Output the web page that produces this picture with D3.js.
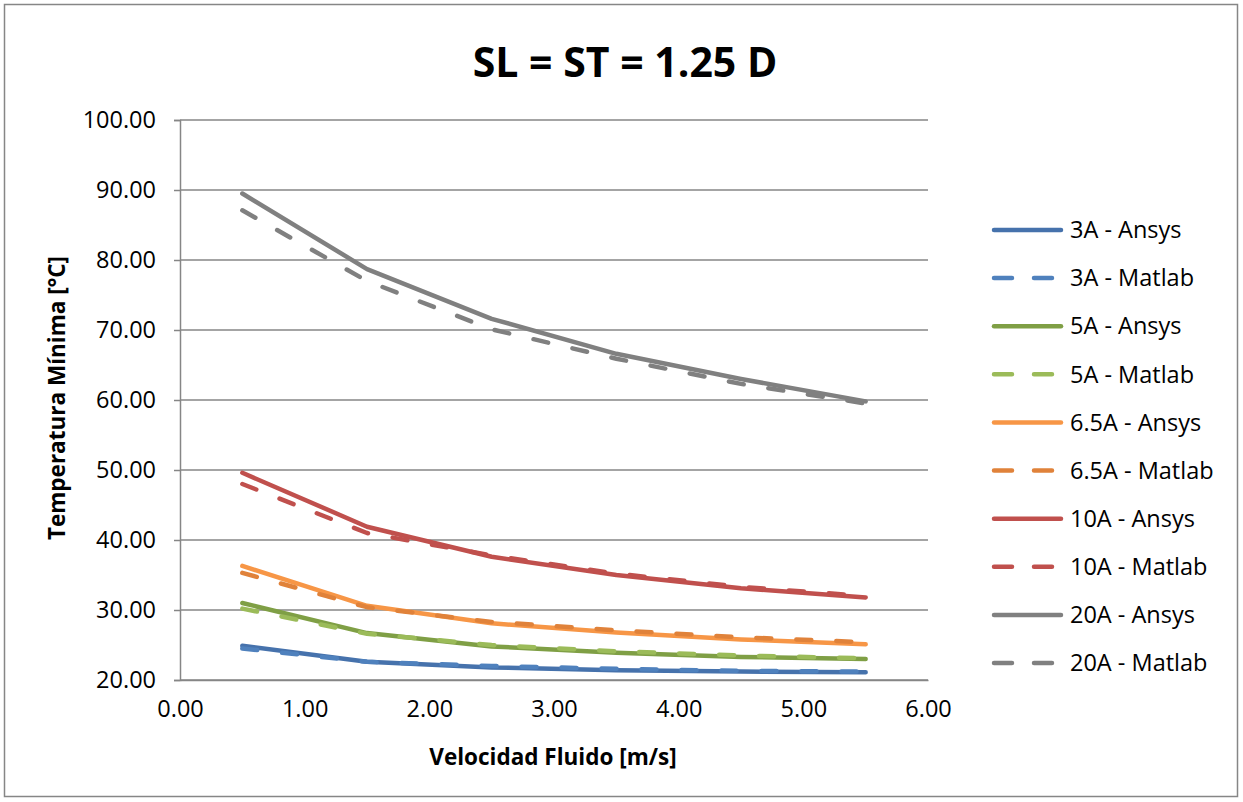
<!DOCTYPE html>
<html><head><meta charset="utf-8">
<script src="https://cdn.jsdelivr.net/npm/d3@7"></script>
<style>
html,body{margin:0;padding:0;background:#fff;}
svg{display:block;font-family:"Open Sans",sans-serif;}
</style></head>
<body><svg id="c" width="1243" height="802"></svg>
<script>
const velocities = [0.5, 1.5, 2.5, 3.5, 4.5, 5.5];
const seriesNames = ["3A - Ansys","3A - Matlab","5A - Ansys","5A - Matlab","6.5A - Ansys","6.5A - Matlab","10A - Ansys","10A - Matlab","20A - Ansys","20A - Matlab"];
const a3Ansys   = [24.9, 22.6, 21.8, 21.4, 21.2, 21.1];
const a3Matlab  = [24.5, 22.6, 22.0, 21.6, 21.3, 21.2];
const a5Ansys   = [31.0, 26.7, 24.8, 23.9, 23.3, 23.0];
const a5Matlab  = [30.2, 26.6, 25.0, 24.1, 23.5, 23.1];
const a65Ansys  = [36.3, 30.6, 28.1, 26.8, 25.8, 25.1];
const a65Matlab = [35.3, 30.4, 28.3, 27.1, 26.1, 25.4];
const a10Ansys  = [49.6, 41.9, 37.6, 35.0, 33.1, 31.8];
const a10Matlab = [48.0, 41.0, 37.8, 35.2, 33.3, 32.0];
const a20Ansys  = [89.5, 78.7, 71.6, 66.6, 63.0, 59.8];
const a20Matlab = [87.1, 77.0, 70.1, 65.9, 62.3, 59.5];
const xTicks = [0,1,2,3,4,5,6];
const yTicks = [20,30,40,50,60,70,80,90,100];
const title = "SL = ST = 1.25 D";
const xTitle = "Velocidad Fluido [m/s]";
const yTitle = "Temperatura Mínima [°C]";

const seriesValues = [a3Ansys,a3Matlab,a5Ansys,a5Matlab,a65Ansys,a65Matlab,a10Ansys,a10Matlab,a20Ansys,a20Matlab];
const colors = ["#4672AC","#4F81BD","#7F9F45","#9BBB59","#F79646","#E0823A","#C0504D","#C0504D","#808080","#808080"];
const dashed = [false,true,false,true,false,true,false,true,false,true];

const svg = d3.select("#c");
svg.append("rect").attr("x",4.5).attr("y",4.5).attr("width",1233).attr("height",792)
  .attr("fill","#fff").attr("stroke","#868686").attr("stroke-width",1.5);

const L=180,R=928,T=120,B=680;
const x = d3.scaleLinear().domain([0,6]).range([L,R]);
const y = d3.scaleLinear().domain([20,100]).range([B,T]);

// gridlines
svg.append("g").selectAll("line").data(yTicks).join("line")
  .attr("x1",L).attr("x2",R).attr("y1",d=>y(d)).attr("y2",d=>y(d))
  .attr("stroke","#868686").attr("stroke-width",1.5);

// y axis
const ya = svg.append("g").attr("transform",`translate(${L},0)`)
  .call(d3.axisLeft(y).tickValues(yTicks).tickFormat(d3.format(".2f")).tickSize(6).tickPadding(18));
ya.select(".domain").attr("stroke","#868686").attr("stroke-width",1.5);
ya.selectAll(".tick line").attr("stroke","#868686").attr("stroke-width",1.5);
ya.selectAll("text").attr("font-size",23.5).attr("font-family","Open Sans").attr("fill","#000");

// x axis
const xa = svg.append("g").attr("transform",`translate(0,${B})`)
  .call(d3.axisBottom(x).tickValues(xTicks).tickFormat(d3.format(".2f")).tickSize(0).tickPadding(20));
xa.select(".domain").attr("stroke","#868686").attr("stroke-width",1.5);
xa.selectAll("text").attr("font-size",23.5).attr("font-family","Open Sans").attr("fill","#000");

// lines
const line = d3.line().x((d,i)=>x(velocities[i])).y(d=>y(d));
seriesValues.forEach((vals,i)=>{
  svg.append("path").datum(vals).attr("d",line).attr("fill","none")
    .attr("stroke",colors[i]).attr("stroke-width",4.5)
    .attr("stroke-linecap","round").attr("stroke-linejoin","round")
    .attr("stroke-dasharray",dashed[i]?"15,25":null);
});

// titles
svg.append("text").attr("x",625).attr("y",77).attr("text-anchor","middle")
  .attr("font-size",41).attr("font-weight","bold").text(title);
svg.append("text").attr("x",553).attr("y",765).attr("text-anchor","middle")
  .attr("font-size",22.5).attr("font-weight","bold").text(xTitle);
svg.append("text").attr("transform","translate(65,398) rotate(-90)").attr("text-anchor","middle")
  .attr("font-size",22.5).attr("font-weight","bold").text(yTitle);

// legend
const ly = d3.scaleLinear().domain([0,9]).range([230,663]);
const lg = svg.append("g");
seriesNames.forEach((n,i)=>{
  lg.append("line").attr("x1",994).attr("x2",1061).attr("y1",ly(i)).attr("y2",ly(i))
    .attr("stroke",colors[i]).attr("stroke-width",4.5).attr("stroke-linecap","round")
    .attr("stroke-dasharray",dashed[i]?"18,22":null);
  lg.append("text").attr("x",1070).attr("y",ly(i)).attr("dy","0.35em")
    .attr("font-size",23.5).text(n);
});
</script></body></html>
